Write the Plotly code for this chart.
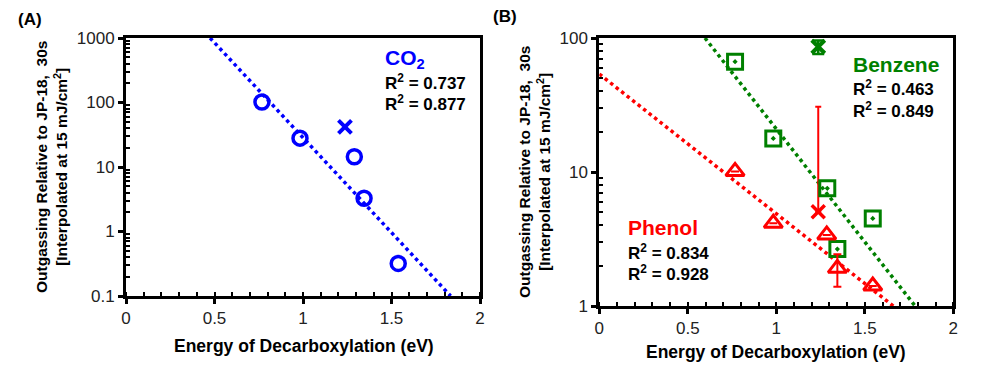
import plotly.graph_objects as go

# ---------------- data ----------------
# Panel A: CO2
co2_x = [0.768, 0.983, 1.290, 1.345, 1.538]
co2_y = [102, 28, 14.4, 3.27, 0.32]
co2_cross_x = [1.237]
co2_cross_y = [42]
co2_trend_x = [0.475, 1.834]
co2_trend_y = [1000, 0.1]

# Panel B: Benzene
benz_x = [0.767, 0.983, 1.288, 1.545, 1.345]
benz_y = [66.5, 17.8, 7.55, 4.5, 2.66]
benz_cross_x = [1.237]
benz_cross_y = [86]
benz_cross_err = [10]
benz_trend_x = [0.597, 1.784]
benz_trend_y = [100, 1]

# Panel B: Phenol
phen_x = [0.767, 0.983, 1.285, 1.345, 1.545]
phen_y = [10.1, 4.14, 3.39, 1.91, 1.41]
phen_err = [0, 0, 0, 0.52, 0]
phen_cross_x = [1.237]
phen_cross_y = [5.06]
phen_cross_err_plus = [25.6]
phen_cross_err_minus = [0]
phen_trend_x = [0.0, 1.661]
phen_trend_y = [53.8, 1]

x_ticks = [0, 0.5, 1, 1.5, 2]
x_ticktext = ["0", "0.5", "1", "1.5", "2"]
ya_ticks = [0.1, 1, 10, 100, 1000]
ya_ticktext = ["0.1", "1", "10", "100", "1000"]
yb_ticks = [1, 10, 100]
yb_ticktext = ["1", "10", "100"]

BLUE = "#0000FF"
GREEN = "#008000"
RED = "#FF0000"
FONT = "Liberation Sans, Arial, sans-serif"

W, H = 1002, 385
OFF = 8  # page body margin offset compensation


def px(x):
    return (x - OFF) / W


def py(y):
    return 1 - (y - OFF) / H


fig = go.Figure()

# Panel A
fig.add_trace(go.Scatter(x=co2_trend_x, y=co2_trend_y, mode="lines",
                         line=dict(color=BLUE, width=3.5, dash="dot"),
                         xaxis="x", yaxis="y", showlegend=False))
fig.add_trace(go.Scatter(x=co2_x, y=co2_y, mode="markers",
                         marker=dict(symbol="circle-open", size=14, color=BLUE,
                                     line=dict(color=BLUE, width=3.5)),
                         xaxis="x", yaxis="y", showlegend=False))
fig.add_trace(go.Scatter(x=co2_cross_x, y=co2_cross_y, mode="markers",
                         marker=dict(symbol="x-thin", size=13, color=BLUE,
                                     line=dict(color=BLUE, width=4)),
                         xaxis="x", yaxis="y", showlegend=False))

# Panel B
fig.add_trace(go.Scatter(x=phen_trend_x, y=phen_trend_y, mode="lines",
                         line=dict(color=RED, width=3.5, dash="dot"),
                         xaxis="x2", yaxis="y2", showlegend=False))
fig.add_trace(go.Scatter(x=benz_trend_x, y=benz_trend_y, mode="lines",
                         line=dict(color=GREEN, width=3.5, dash="dot"),
                         xaxis="x2", yaxis="y2", showlegend=False))
fig.add_trace(go.Scatter(x=phen_cross_x, y=phen_cross_y, mode="markers",
                         marker=dict(symbol="x-thin", size=13, color=RED,
                                     line=dict(color=RED, width=3.5)),
                         error_y=dict(type="data", symmetric=False,
                                      array=phen_cross_err_plus,
                                      arrayminus=phen_cross_err_minus,
                                      color=RED, thickness=2, width=3),
                         xaxis="x2", yaxis="y2", showlegend=False))
fig.add_trace(go.Scatter(x=benz_cross_x, y=benz_cross_y, mode="markers",
                         marker=dict(symbol="x-thin", size=13, color=GREEN,
                                     line=dict(color=GREEN, width=4)),
                         error_y=dict(type="data", array=benz_cross_err,
                                      color=GREEN, thickness=2.5, width=6),
                         xaxis="x2", yaxis="y2", showlegend=False))
fig.add_trace(go.Scatter(x=benz_x, y=benz_y, mode="markers",
                         marker=dict(symbol="square-open-dot", size=15, color=GREEN,
                                     line=dict(color=GREEN, width=3)),
                         xaxis="x2", yaxis="y2", showlegend=False))
fig.add_trace(go.Scatter(x=phen_x, y=phen_y, mode="markers",
                         marker=dict(symbol="triangle-up-open", size=16, color=RED,
                                     line=dict(color=RED, width=3)),
                         error_y=dict(type="data", array=phen_err, color=RED,
                                      thickness=2, width=4),
                         xaxis="x2", yaxis="y2", showlegend=False))

tickfont = dict(family=FONT, size=17, color="#222222")
common_x = dict(range=[0, 2], tickvals=x_ticks, ticktext=x_ticktext,
                showgrid=False, zeroline=False, showline=True, linecolor="black",
                linewidth=3, mirror=True, ticks="outside", ticklen=5, tickwidth=3,
                tickcolor="black", tickfont=tickfont, automargin=False,
                minor=dict(dtick=0.1, ticks="inside", ticklen=4, tickwidth=2,
                           tickcolor="black", showgrid=False))


def minor_log(lo, hi):
    vals = []
    for d in range(lo, hi):
        for k in range(2, 10):
            vals.append(k * 10 ** d)
    return vals


common_y = dict(type="log", showgrid=False, zeroline=False, showline=True,
                linecolor="black", linewidth=3, mirror=True, ticks="outside",
                ticklen=5, tickwidth=3, tickcolor="black", tickfont=tickfont,
                automargin=False)

fig.update_layout(
    width=W, height=H, autosize=False,
    margin=dict(l=0, r=0, t=0, b=0, pad=0, autoexpand=False),
    showlegend=False,
    paper_bgcolor="white", plot_bgcolor="white",
    xaxis=dict(domain=[px(126), px(480)], anchor="y", **common_x),
    yaxis=dict(domain=[py(296), py(38)], anchor="x", range=[-1, 3],
               tickvals=ya_ticks, ticktext=ya_ticktext,
               minor=dict(tickvals=minor_log(-1, 3), ticks="inside", ticklen=4,
                          tickwidth=2, tickcolor="black", showgrid=False),
               **common_y),
    xaxis2=dict(domain=[px(599.3), px(953.3)], anchor="y2", **common_x),
    yaxis2=dict(domain=[py(306), py(38)], anchor="x2", range=[0, 2],
                tickvals=yb_ticks, ticktext=yb_ticktext,
                minor=dict(tickvals=minor_log(0, 2), ticks="inside", ticklen=4,
                           tickwidth=2, tickcolor="black", showgrid=False),
                **common_y),
)

ytitle = "Outgassing Relative to JP-18,  30s<br>[Interpolated at 15 mJ/cm<sup>2</sup>]"
xtitle = "Energy of Decarboxylation (eV)"
bold = lambda s: "<b>" + s + "</b>"

annots = [
    # panel labels
    dict(x=px(30), y=py(19), text=bold("(A)"), size=17, color="black"),
    dict(x=px(505), y=py(16.5), text=bold("(B)"), size=17, color="black"),
    # axis titles
    dict(x=px(304), y=py(346), text=bold(xtitle), size=17.5, color="black"),
    dict(x=px(776), y=py(352), text=bold(xtitle), size=17.5, color="black"),
    dict(x=px(51), y=py(167), text=bold(ytitle), size=15.5, color="black", angle=-90),
    dict(x=px(535), y=py(172), text=bold(ytitle), size=15.5, color="black", angle=-90),
    # panel A labels
    dict(x=px(383), y=py(59), text=bold("CO<sub>2</sub>"), size=21, color=BLUE, xanchor="left"),
    dict(x=px(383), y=py(82), text=bold("R<sup>2</sup> = 0.737"), size=17, color="black", xanchor="left"),
    dict(x=px(383), y=py(103), text=bold("R<sup>2</sup> = 0.877"), size=17, color="black", xanchor="left"),
    # panel B labels
    dict(x=px(851), y=py(65), text=bold("Benzene"), size=21, color=GREEN, xanchor="left"),
    dict(x=px(851), y=py(88), text=bold("R<sup>2</sup> = 0.463"), size=17, color="black", xanchor="left"),
    dict(x=px(851), y=py(110), text=bold("R<sup>2</sup> = 0.849"), size=17, color="black", xanchor="left"),
    dict(x=px(626), y=py(227), text=bold("Phenol"), size=21, color=RED, xanchor="left"),
    dict(x=px(626), y=py(252), text=bold("R<sup>2</sup> = 0.834"), size=17, color="black", xanchor="left"),
    dict(x=px(626), y=py(273), text=bold("R<sup>2</sup> = 0.928"), size=17, color="black", xanchor="left"),
]

for a in annots:
    fig.add_annotation(
        x=a["x"], y=a["y"], xref="paper", yref="paper", text=a["text"],
        showarrow=False, xanchor=a.get("xanchor", "center"), yanchor="middle",
        textangle=a.get("angle", 0),
        font=dict(family=FONT, size=a["size"], color=a["color"]),
    )

fig.write_html("out.html")
